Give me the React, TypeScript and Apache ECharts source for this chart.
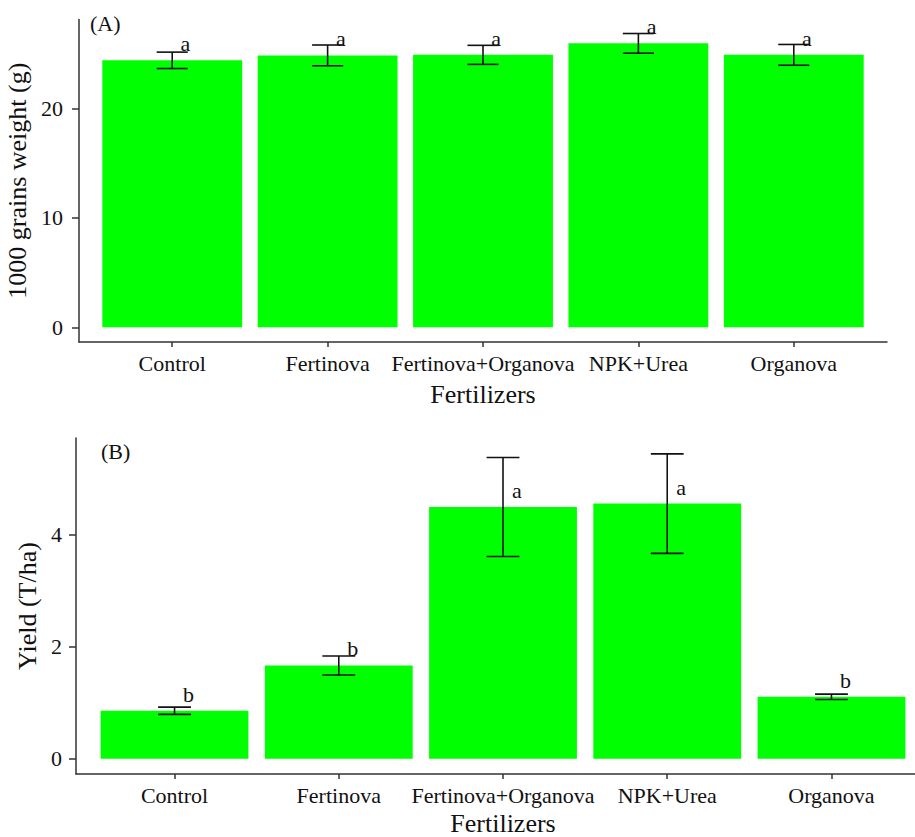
import React, { useEffect, useRef } from 'react';
import * as echarts from 'echarts';

const categories = ['Control', 'Fertinova', 'Fertinova+Organova', 'NPK+Urea', 'Organova'];
const grainWeight = [24.4, 24.85, 24.9, 25.95, 24.9];
const grainWeightErr = [0.75, 0.95, 0.87, 0.9, 0.95];
const grainLetters = ['a', 'a', 'a', 'a', 'a'];
const yieldVals = [0.857, 1.667, 4.5, 4.56, 1.107];
const yieldErr = [0.065, 0.17, 0.885, 0.89, 0.047];
const yieldLetters = ['b', 'b', 'a', 'a', 'b'];
const grainTicks = [0, 10, 20];
const yieldTicks = [0, 2, 4];
const catPositions = [1, 2, 3, 4, 5];

const FONT = '"Liberation Serif", "Times New Roman", serif';
const AXIS_COLOR = '#333';
const TEXT_COLOR = '#111';
const GREEN = '#00ff00';

function makeXAxis(gridIndex: number, nameGap: number) {
  return {
    type: 'value',
    gridIndex,
    min: 0.4,
    max: 5.6,
    name: 'Fertilizers',
    nameLocation: 'middle',
    nameGap,
    nameTextStyle: { fontFamily: FONT, fontSize: 26, color: TEXT_COLOR, lineHeight: 24 },
    axisLine: { show: true, onZero: false, lineStyle: { color: AXIS_COLOR, width: 1.5 } },
    axisTick: { show: true, length: 5, customValues: catPositions, lineStyle: { color: AXIS_COLOR, width: 1.5 } },
    axisLabel: {
      customValues: catPositions,
      formatter: (v: number) => categories[Math.round(v) - 1] ?? '',
      fontFamily: FONT,
      fontSize: 22,
      color: TEXT_COLOR,
      margin: 10,
    },
    splitLine: { show: false },
  };
}

function makeYAxis(gridIndex: number, name: string, min: number, max: number, ticks: number[], nameGap: number, labelMargin: number) {
  return {
    type: 'value',
    gridIndex,
    min,
    max,
    name,
    nameLocation: 'middle',
    nameGap,
    nameTextStyle: { fontFamily: FONT, fontSize: 26, color: TEXT_COLOR },
    axisLine: { show: true, onZero: false, lineStyle: { color: AXIS_COLOR, width: 1.5 } },
    axisTick: { show: true, length: 7, customValues: ticks, lineStyle: { color: AXIS_COLOR, width: 1.5 } },
    axisLabel: { customValues: ticks, fontFamily: FONT, fontSize: 22, color: TEXT_COLOR, margin: labelMargin },
    splitLine: { show: false },
  };
}

function errorSeries(idx: number, means: number[], errs: number[], letters: string[]) {
  return {
    type: 'custom',
    xAxisIndex: idx,
    yAxisIndex: idx,
    z: 5,
    clip: false,
    data: means.map((m, i) => [catPositions[i], m, errs[i]]),
    renderItem: (params: any, api: any) => {
      const x = api.value(0);
      const y = api.value(1);
      const e = api.value(2);
      const top = api.coord([x, y + e]);
      const bot = api.coord([x, y - e]);
      const half = api.size([0.1, 0])[0];
      const lab = api.coord([x + 0.085, y]);
      const ls = { stroke: '#111', lineWidth: 1.6 };
      return {
        type: 'group',
        children: [
          { type: 'line', shape: { x1: top[0], y1: top[1], x2: bot[0], y2: bot[1] }, style: ls },
          { type: 'line', shape: { x1: top[0] - half, y1: top[1], x2: top[0] + half, y2: top[1] }, style: ls },
          { type: 'line', shape: { x1: bot[0] - half, y1: bot[1], x2: bot[0] + half, y2: bot[1] }, style: ls },
          {
            type: 'text',
            x: lab[0],
            y: lab[1] - 16.5,
            style: {
              text: letters[params.dataIndex],
              fontFamily: FONT,
              fontSize: 22,
              fill: TEXT_COLOR,
              align: 'center',
              verticalAlign: 'middle',
            },
          },
        ],
      };
    },
  };
}

export default function App() {
  const ref = useRef<HTMLDivElement>(null);
  useEffect(() => {
    if (!ref.current) return;
    const chart = echarts.init(ref.current, undefined, { renderer: 'svg' });
    chart.setOption({
      animation: false,
      backgroundColor: '#ffffff',
      grid: [
        { left: 79, width: 808, top: 19.4, height: 322.6, outerBoundsMode: 'none', containLabel: false },
        { left: 76, width: 854, top: 438, height: 336, outerBoundsMode: 'none', containLabel: false },
      ],
      xAxis: [makeXAxis(0, 40), makeXAxis(1, 37)],
      yAxis: [
        makeYAxis(0, '1000 grains weight (g)', -1.34, 28.14, grainTicks, 43, 16),
        makeYAxis(1, 'Yield (T/ha)', -0.273, 5.733, yieldTicks, 32, 14),
      ],
      graphic: [
        { type: 'text', left: 90, top: 12, style: { text: '(A)', fontFamily: FONT, fontSize: 22, fill: TEXT_COLOR } },
        { type: 'text', left: 101, top: 440, style: { text: '(B)', fontFamily: FONT, fontSize: 22, fill: TEXT_COLOR } },
      ],
      series: [
        {
          type: 'bar',
          xAxisIndex: 0,
          yAxisIndex: 0,
          barWidth: '90%',
          itemStyle: { color: GREEN },
          data: grainWeight.map((v, i) => [catPositions[i], v]),
        },
        errorSeries(0, grainWeight, grainWeightErr, grainLetters),
        {
          type: 'bar',
          xAxisIndex: 1,
          yAxisIndex: 1,
          barWidth: '90%',
          itemStyle: { color: GREEN },
          data: yieldVals.map((v, i) => [catPositions[i], v]),
        },
        errorSeries(1, yieldVals, yieldErr, yieldLetters),
      ],
    });
    return () => chart.dispose();
  }, []);
  return (
    <div
      ref={ref}
      style={{ position: 'fixed', left: 0, top: 0, width: 915, height: 837, background: '#fff' }}
    />
  );
}
